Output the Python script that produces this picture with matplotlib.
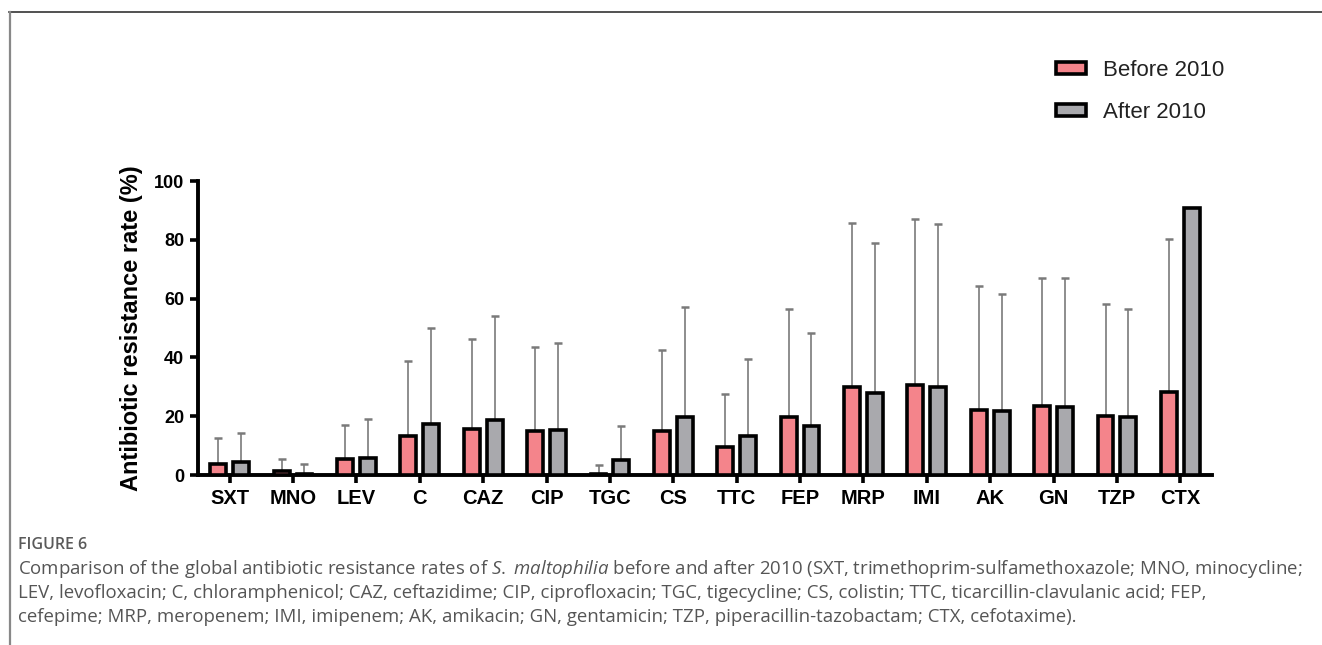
import numpy as np
import matplotlib
matplotlib.use('Agg')
import matplotlib.pyplot as plt
from matplotlib.lines import Line2D

# antibiotic abbreviations on the x axis
drugs = ['SXT', 'MNO', 'LEV', 'C', 'CAZ', 'CIP', 'TGC', 'CS',
         'TTC', 'FEP', 'MRP', 'IMI', 'AK', 'GN', 'TZP', 'CTX']

# mean resistance rate (%) and top of the error bar
before = [3.7, 1.2, 5.4, 13.3, 15.7, 14.8, 0.5, 14.8, 9.4, 19.6, 30.1, 30.7, 22.2, 23.6, 20.2, 28.2]
before_top = [12.7, 5.4, 17.0, 38.8, 46.4, 43.4, 3.5, 42.5, 27.4, 56.5, 85.6, 87.1, 64.3, 67.1, 58.2, 80.4]
after = [4.4, 0.5, 5.8, 17.4, 18.8, 15.4, 5.2, 19.7, 13.1, 16.7, 27.8, 30.1, 21.6, 23.1, 19.7, 90.8]
after_top = [14.4, 3.6, 18.9, 49.9, 54.2, 45.0, 16.8, 57.3, 39.3, 48.2, 78.8, 85.4, 61.6, 67.1, 56.5, np.nan]

yticks = [0, 20, 40, 60, 80, 100]

series_names = ['Before 2010', 'After 2010']
pink = '#f4848b'
grey = '#a9a9ad'

caption_head = 'FIGURE 6'
caption_lines = [
    r'Comparison of the global antibiotic resistance rates of $\mathit{S.}$ $\mathit{maltophilia}$ before and after 2010 (SXT, trimethoprim-sulfamethoxazole; MNO, minocycline;',
    'LEV, levofloxacin; C, chloramphenicol; CAZ, ceftazidime; CIP, ciprofloxacin; TGC, tigecycline; CS, colistin; TTC, ticarcillin-clavulanic acid; FEP,',
    'cefepime; MRP, meropenem; IMI, imipenem; AK, amikacin; GN, gentamicin; TZP, piperacillin-tazobactam; CTX, cefotaxime).',
]

plt.rcParams['font.family'] = ['Liberation Sans', 'DejaVu Sans']
plt.rcParams['mathtext.fontset'] = 'custom'
plt.rcParams['mathtext.rm'] = 'Open Sans'
plt.rcParams['mathtext.it'] = 'Open Sans:italic'

W, H = 1322, 645
fig = plt.figure(figsize=(W / 100, H / 100), dpi=100)
ax = fig.add_axes([198 / W, 1 - 475 / H, (1212 - 198) / W, 294 / H])

x = np.arange(len(drugs))
before = np.array(before)
after = np.array(after)
err_b = np.array(before_top) - before
err_a = np.array(after_top) - after

bw = 0.25
off = 0.18
ax.bar(x - off, before, bw, color=pink, edgecolor='black', linewidth=2.6,
       label=series_names[0], zorder=3)
ax.bar(x + off, after, bw, color=grey, edgecolor='black', linewidth=2.6,
       label=series_names[1], zorder=3)
ax.errorbar(x - off, before, yerr=[np.zeros_like(err_b), err_b], fmt='none',
            ecolor='#7a7a7a', elinewidth=1.2, capsize=3, capthick=1.8, zorder=2)
ax.errorbar(x + off, after, yerr=[np.zeros_like(err_a), err_a], fmt='none',
            ecolor='#7a7a7a', elinewidth=1.2, capsize=3, capthick=1.8, zorder=2)

ax.set_xlim(-0.5, len(drugs) - 0.5)
ax.set_ylim(0, 100)
ax.set_xticks(x)
ax.set_xticklabels(drugs, fontsize=14.5, fontweight='bold')
ax.set_yticks(yticks)
ax.set_yticklabels([str(v) for v in yticks], fontsize=13, fontweight='bold')
ax.tick_params(axis='both', length=6, width=2.6, direction='out', pad=4)
ax.set_ylabel('Antibiotic resistance rate (%)', fontsize=17, fontweight='bold', labelpad=8)

for s in ['top', 'right']:
    ax.spines[s].set_visible(False)
for s in ['left', 'bottom']:
    ax.spines[s].set_linewidth(2.8)

leg = ax.legend(loc='upper left', bbox_to_anchor=(1056 / W, 1 - 60 / H),
                bbox_transform=fig.transFigure, frameon=False, fontsize=16,
                handlelength=1.35, handleheight=0.45, handletextpad=0.75,
                labelspacing=0.95, borderpad=0, borderaxespad=0)
for t in leg.get_texts():
    t.set_color('#222222')

# caption below the chart
fig.text(18 / W, 1 - 545 / H, caption_head, fontsize=11.5, family='Open Sans',
         fontweight='semibold', color='#5a5a5a', va='center', ha='left')
for i, line in enumerate(caption_lines):
    fig.text(18 / W, 1 - (569 + 24 * i) / H, line, fontsize=13.4, family='Open Sans',
             color='#555555', va='center', ha='left')

# page frame lines
fig.add_artist(Line2D([9 / W, 1], [1 - 12 / H, 1 - 12 / H], color='#333333', linewidth=1.2))
fig.add_artist(Line2D([9.5 / W, 9.5 / W], [0, 1 - 12 / H], color='#888888', linewidth=1.6))

fig.savefig('out.png', dpi=100)
